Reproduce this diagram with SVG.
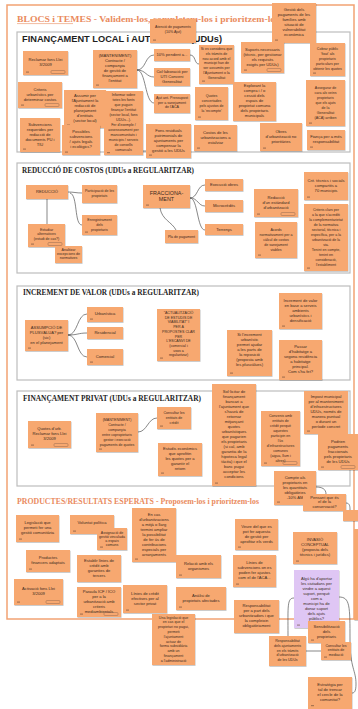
<svg xmlns="http://www.w3.org/2000/svg" width="358" height="709" viewBox="0 0 358 709">
<defs>
<filter id="sh" x="-10%" y="-10%" width="130%" height="130%"><feDropShadow dx="0.5" dy="0.8" stdDeviation="0.6" flood-color="#000" flood-opacity="0.25"/></filter>
<style>
.n{fill:#f7a870;filter:url(#sh)}
.p{fill:#dfc6f4;filter:url(#sh)}
.t{font-family:"Liberation Sans",Arial,sans-serif;font-size:4.1px;fill:#3a2a20;text-anchor:middle}
.s{font-size:3.6px}
.b{font-size:5.4px}
.box{fill:#fff;stroke:#bdbdbd;stroke-width:1.2}
.c{fill:none;stroke:#555;stroke-width:0.7}
.ic{fill:#6b4a38;opacity:0.55}
.tg{fill:none;stroke:#7d5c48;stroke-width:0.4}
.ttl{font-family:"Liberation Serif","Times New Roman",serif;font-weight:bold;fill:#ea8b5e;font-size:8.5px}
.st{font-family:"Liberation Serif","Times New Roman",serif;font-weight:bold;fill:#1e1e1e;font-size:8px}
.st1{font-family:"Liberation Sans",Arial,sans-serif;font-weight:bold;fill:#1e1e1e;font-size:9px}
</style>
</defs>
<rect width="358" height="709" fill="#fff"/>
<rect x="7" y="5" width="347" height="614" fill="none" stroke="#f2a273" stroke-width="1.5"/>
<text class="ttl" x="17" y="22" textLength="262" lengthAdjust="spacingAndGlyphs">BLOCS i TEMES - Validem-los, completem-los i prioritzem-los</text>
<line x1="17" y1="23.6" x2="73" y2="23.6" stroke="#ea8b5e" stroke-width="0.6"/>

<g id="sec1"><rect class="box" x="17" y="32" width="333" height="120"/><text class="st1" x="22" y="42" textLength="200" lengthAdjust="spacingAndGlyphs">FINANÇAMENT LOCAL i AUTONÒMIC (UDUs)</text></g>
<g id="sec2"><rect class="box" x="17" y="163" width="333" height="110"/><text class="st" x="22" y="173" textLength="172" lengthAdjust="spacingAndGlyphs">REDUCCIÓ DE COSTOS (UDUs a REGULARITZAR)</text></g>
<g id="sec3"><rect class="box" x="17" y="286" width="333" height="94"/><text class="st" x="23" y="295" textLength="176" lengthAdjust="spacingAndGlyphs">INCREMENT DE VALOR (UDUs a REGULARITZAR)</text></g>
<g id="sec4"><rect class="box" x="17" y="391" width="333" height="95"/><text class="st" x="23" y="401" textLength="178" lengthAdjust="spacingAndGlyphs">FINANÇAMENT PRIVAT (UDUs a REGULARITZAR)</text></g>
<text class="ttl" x="17" y="504" textLength="242" lengthAdjust="spacingAndGlyphs">PRODUCTES/RESULTATS ESPERATS - Proposem-los i prioritzem-los</text>

<g id="connectors">
<path class="c" d="M137,70 C146,70 145,55 154,55"/>
<path class="c" d="M137,70 C146,70 146,77 154,77"/>
<path class="c" d="M137,70 C146,70 145,103 154,103"/>
<path class="c" d="M190,55 C196,55 194,64 199,64"/>
<path class="c" d="M143,151 L146,151"/>
<path class="c" d="M68,192 C74,192 76,193 82,193"/>
<path class="c" d="M70,193 C78,195 74,225 82,225"/>
<path class="c" d="M47,199 L47,224"/>
<path class="c" d="M190,198 C198,198 197,185 205,185"/>
<path class="c" d="M190,198 C198,198 198,206 205,206"/>
<path class="c" d="M190,198 C198,198 197,230 205,230"/>
<path class="c" d="M160,208 C162,220 172,222 176,230"/>
<path class="c" d="M68,335 C78,335 77,314 87,314"/>
<path class="c" d="M68,335 C78,335 78,333 87,333"/>
<path class="c" d="M68,335 C78,335 77,357 87,357"/>
<path class="c" d="M138,432 C147,432 148,418 157,418"/>
<path class="c" d="M316,487 C322,487 326,489 326,494"/>
<path class="c" d="M346,503 C350,503 350,507 350,510"/>
<path class="c" d="M294,598 C287,598 288,606 288,636"/>
<path class="c" d="M339,597 C350,597 350,606 350,640 C350,668 356,670 356,684 C356,692 354,693 352,693"/>
<path class="c" d="M306,651 L321,651"/>
</g>

<g id="n1"><rect class="n" x="150" y="19" width="46" height="24"/><text class="t s" y="28.3"><tspan x="173">Atenció de pagaments</tspan><tspan x="173" dy="4.2">(10% Ajut)</tspan></text><rect class="ic" x="153" y="39.5" width="3" height="1.2"/></g>
<g id="n2"><rect class="n" x="272" y="3" width="44" height="40"/><text class="t" y="11"><tspan x="294">Gestió dels</tspan><tspan x="294" dy="5">pagaments de les</tspan><tspan x="294" dy="5">famílies amb</tspan><tspan x="294" dy="5">situació de</tspan><tspan x="294" dy="5">vulnerabilitat</tspan><tspan x="294" dy="5">econòmica</tspan></text><rect class="ic" x="275" y="39.5" width="3" height="1.2"/></g>
<g id="n3"><rect class="n" x="23" y="51" width="45" height="24"/><text class="t" y="61"><tspan x="45.5">Reclamar fons Llei</tspan><tspan x="45.5" dy="5">3/2009</tspan></text><rect class="ic" x="26" y="71.5" width="3" height="1.2"/><rect class="tg" x="51" y="70.5" width="14" height="3" rx="1"/></g>
<g id="n4"><rect class="n" x="93" y="50" width="44" height="38"/><text class="t" y="57"><tspan x="115">(MANTENIMENT)</tspan><tspan x="115" dy="5">Contracte /</tspan><tspan x="115" dy="5">companyia</tspan><tspan x="115" dy="5">de gestió de</tspan><tspan x="115" dy="5">finançament a</tspan><tspan x="115" dy="5">l'entitat</tspan></text><rect class="ic" x="96" y="84.5" width="3" height="1.2"/></g>
<g id="n5"><rect class="n" x="154" y="49" width="36" height="12"/><text class="t" y="55.5"><tspan x="172">10% pendent a...</tspan></text></g>
<g id="n6"><rect class="n" x="154" y="68" width="36" height="18"/><text class="t" y="72.5"><tspan x="172">Col·laboració per</tspan><tspan x="172" dy="5">UTI Conveni</tspan><tspan x="172" dy="5">Generalitat</tspan></text></g>
<g id="n7"><rect class="n" x="154" y="94" width="36" height="19"/><text class="t s" y="99"><tspan x="172">Ajut ant. Pressupost</tspan><tspan x="172" dy="4.6">per a sanejament</tspan><tspan x="172" dy="4.6">de l'ACA</tspan></text></g>
<g id="n8"><rect class="n" x="199" y="45" width="35" height="39"/><text class="t s" y="50"><tspan x="216.5">Si es considera que</tspan><tspan x="216.5" dy="4.8">els tràmits de</tspan><tspan x="216.5" dy="4.8">nou acord amb el</tspan><tspan x="216.5" dy="4.8">municipi han de</tspan><tspan x="216.5" dy="4.8">ser assumits per</tspan><tspan x="216.5" dy="4.8">l'Ajuntament o la</tspan><tspan x="216.5" dy="4.8">Generalitat</tspan></text><rect class="ic" x="202" y="80.5" width="3" height="1.2"/></g>
<g id="n9"><rect class="n" x="241" y="42" width="43" height="31"/><text class="t" y="50.5"><tspan x="262.5">Suports necessaris</tspan><tspan x="262.5" dy="5">(tècnic, per gestionar</tspan><tspan x="262.5" dy="5">els requisits</tspan><tspan x="262.5" dy="5">exigits per UDUs)</tspan></text><rect class="ic" x="244" y="69.5" width="3" height="1.2"/><rect class="tg" x="267" y="68.5" width="14" height="3" rx="1"/></g>
<g id="n10"><rect class="n" x="310" y="43" width="35" height="33"/><text class="t s" y="50"><tspan x="327.5">Cobrar públic</tspan><tspan x="327.5" dy="5">'fixat' als</tspan><tspan x="327.5" dy="5">propietaris</tspan><tspan x="327.5" dy="5">particulars per</tspan><tspan x="327.5" dy="5">obtenir les quotes</tspan></text><rect class="ic" x="313" y="72.5" width="3" height="1.2"/></g>
<g id="n11"><rect class="n" x="18" y="82" width="44" height="26"/><text class="t" y="90.5"><tspan x="40">Criteris</tspan><tspan x="40" dy="5">urbanístics per</tspan><tspan x="40" dy="5">determinar costos</tspan></text><rect class="ic" x="21" y="104.5" width="3" height="1.2"/><rect class="tg" x="45" y="103.5" width="14" height="3" rx="1"/></g>
<g id="n12"><rect class="n" x="64" y="90" width="42" height="38"/><text class="t" y="97"><tspan x="85">Assumir per</tspan><tspan x="85" dy="5">l'Ajuntament la</tspan><tspan x="85" dy="5">redacció de</tspan><tspan x="85" dy="5">planejament</tspan><tspan x="85" dy="5">d'entitats</tspan><tspan x="85" dy="5">(sector local)</tspan></text><rect class="ic" x="67" y="124.5" width="3" height="1.2"/></g>
<g id="n13"><rect class="n" x="104" y="91" width="39" height="64"/><text class="t s" y="96"><tspan x="123.5">Informar sobre</tspan><tspan x="123.5" dy="5">totes les fonts</tspan><tspan x="123.5" dy="5">que puguin</tspan><tspan x="123.5" dy="5">finançar l'entitat</tspan><tspan x="123.5" dy="5">(sector local, fons</tspan><tspan x="123.5" dy="5">UDUs...).</tspan><tspan x="123.5" dy="5">Fer d'exemple /</tspan><tspan x="123.5" dy="5">assessorament per</tspan><tspan x="123.5" dy="5">mancomunitats i</tspan><tspan x="123.5" dy="5">municipis / serveis</tspan><tspan x="123.5" dy="5">de consells</tspan><tspan x="123.5" dy="5">comarcals</tspan></text><rect class="ic" x="107" y="152" width="3" height="1.2"/></g>
<g id="n14"><rect class="n" x="20" y="118" width="40" height="34"/><text class="t" y="125.5"><tspan x="40">Subvencions</tspan><tspan x="40" dy="5">requerides per</tspan><tspan x="40" dy="5">redacció de</tspan><tspan x="40" dy="5">documents PU i</tspan><tspan x="40" dy="5">TIU</tspan></text><rect class="ic" x="23" y="148.5" width="3" height="1.2"/></g>
<g id="n15"><rect class="n" x="62" y="125" width="38" height="30"/><text class="t" y="133"><tspan x="81">Possibles</tspan><tspan x="81" dy="5">subvencions</tspan><tspan x="81" dy="5">/ ajuts legals</tspan><tspan x="81" dy="5">i ecològics?</tspan></text><rect class="ic" x="65" y="151.5" width="3" height="1.2"/></g>
<g id="n17"><rect class="n" x="146" y="124" width="45" height="34"/><text class="t" y="131.5"><tspan x="168.5">Fons residuals</tspan><tspan x="168.5" dy="5">patrimonials de</tspan><tspan x="168.5" dy="5">ajuntaments per</tspan><tspan x="168.5" dy="5">compensar la</tspan><tspan x="168.5" dy="5">gestió a les UDUs</tspan></text><rect class="ic" x="149" y="154.5" width="3" height="1.2"/></g>
<g id="n18"><rect class="n" x="195" y="87" width="33" height="33"/><text class="t s" y="96.5"><tspan x="211.5">Quotes</tspan><tspan x="211.5" dy="5">concertades</tspan><tspan x="211.5" dy="5">pels ajustos de</tspan><tspan x="211.5" dy="5">la 'recompte'</tspan></text><rect class="ic" x="198" y="116.5" width="3" height="1.2"/></g>
<g id="n19"><rect class="n" x="233" y="82" width="43" height="39"/><text class="t" y="87"><tspan x="254.5">Explorant la</tspan><tspan x="254.5" dy="5">compra i / o</tspan><tspan x="254.5" dy="5">cessió dels</tspan><tspan x="254.5" dy="5">espais de</tspan><tspan x="254.5" dy="5">propietat comuna</tspan><tspan x="254.5" dy="5">dels propietaris</tspan><tspan x="254.5" dy="5">municipals</tspan></text></g>
<g id="n20"><rect class="n" x="306" y="80" width="39" height="46"/><text class="t s" y="88.5"><tspan x="325.5">Assegurar de</tspan><tspan x="325.5" dy="5">cara als veïns</tspan><tspan x="325.5" dy="5">propietaris</tspan><tspan x="325.5" dy="5">que els ajuts</tspan><tspan x="325.5" dy="5">de la</tspan><tspan x="325.5" dy="5">Generalitat</tspan><tspan x="325.5" dy="5">(ACA) arriben</tspan></text><rect class="ic" x="309" y="122.5" width="3" height="1.2"/></g>
<g id="n21"><rect class="n" x="194" y="125" width="43" height="26"/><text class="t" y="133.5"><tspan x="215.5">Costos de les</tspan><tspan x="215.5" dy="5">urbanitzacions a</tspan><tspan x="215.5" dy="5">estalviar</tspan></text><rect class="ic" x="197" y="147.5" width="3" height="1.2"/></g>
<g id="n22"><rect class="n" x="260" y="123" width="42" height="28"/><text class="t" y="132.5"><tspan x="281">Obres</tspan><tspan x="281" dy="5">d'urbanització no</tspan><tspan x="281" dy="5">prioritàries</tspan></text><rect class="ic" x="263" y="147.5" width="3" height="1.2"/></g>
<g id="n23"><rect class="n" x="307" y="130" width="38" height="20"/><text class="t" y="138"><tspan x="326">Fiança per a més</tspan><tspan x="326" dy="5">responsabilitat</tspan></text><rect class="ic" x="310" y="146.5" width="3" height="1.2"/></g>

<g id="n24"><rect class="n" x="26" y="185" width="42" height="14"/><text class="t" y="193"><tspan x="47">REDUCCIÓ</tspan></text></g>
<g id="n25"><rect class="n" x="82" y="185" width="35" height="18"/><text class="t s" y="192"><tspan x="99.5">Participació de les</tspan><tspan x="99.5" dy="5">propietats</tspan></text></g>
<g id="n26"><rect class="n" x="82" y="215" width="35" height="20"/><text class="t s" y="220.5"><tspan x="99.5">Enregistrament</tspan><tspan x="99.5" dy="5">dels</tspan><tspan x="99.5" dy="5">propietaris</tspan></text><rect class="ic" x="85" y="231.5" width="3" height="1.2"/></g>
<g id="n27"><rect class="n" x="28" y="224" width="37" height="23"/><text class="t s" y="230.5"><tspan x="46.5">Estudiar</tspan><tspan x="46.5" dy="4.6">alternatives</tspan><tspan x="46.5" dy="4.6">(estudi de cas?)</tspan></text><rect class="ic" x="31" y="243.5" width="3" height="1.2"/><rect class="tg" x="48" y="242.5" width="14" height="3" rx="1"/></g>
<g id="n28"><rect class="n" x="55" y="246" width="27" height="17"/><text class="t s" y="250.5"><tspan x="68.5">Analitzar</tspan><tspan x="68.5" dy="4.3">excepcions de</tspan><tspan x="68.5" dy="4.3">normatives</tspan></text></g>
<g id="n29"><rect class="n" x="143" y="185" width="47" height="23"/><text class="t b" y="194.5"><tspan x="166.5">FRACCIONA-</tspan><tspan x="166.5" dy="6">MENT</tspan></text><rect class="ic" x="146" y="204.5" width="3" height="1.2"/></g>
<g id="n30"><rect class="n" x="205" y="179" width="38" height="12"/><text class="t" y="186"><tspan x="224">Execució obres</tspan></text></g>
<g id="n31"><rect class="n" x="205" y="200" width="38" height="12"/><text class="t" y="207"><tspan x="224">Microcrèdits</tspan></text></g>
<g id="n32"><rect class="n" x="205" y="224" width="38" height="11"/><text class="t" y="230.5"><tspan x="224">Terrenys</tspan></text></g>
<g id="n33"><rect class="n" x="165" y="230" width="33" height="13"/><text class="t s" y="237.5"><tspan x="181.5">Pla de pagament</tspan></text></g>
<g id="n34"><rect class="n" x="254" y="189" width="44" height="28"/><text class="t" y="198.5"><tspan x="276">Redacció</tspan><tspan x="276" dy="5">d'un estàndard</tspan><tspan x="276" dy="5">d'urbanització</tspan></text><rect class="ic" x="257" y="213.5" width="3" height="1.2"/><rect class="tg" x="281" y="212.5" width="14" height="3" rx="1"/></g>
<g id="n35"><rect class="n" x="255" y="222" width="42" height="36"/><text class="t s" y="230.5"><tspan x="276">Acords</tspan><tspan x="276" dy="5">normativament per a</tspan><tspan x="276" dy="5">càlcul de costos</tspan><tspan x="276" dy="5">de sanejament</tspan><tspan x="276" dy="5">viables</tspan></text><rect class="ic" x="258" y="254.5" width="3" height="1.2"/></g>
<g id="n36"><rect class="n" x="304" y="172" width="44" height="28"/><text class="t" y="181.5"><tspan x="326">Crit. tècnics i socials</tspan><tspan x="326" dy="5">compartits a</tspan><tspan x="326" dy="5">70 municipis</tspan></text><rect class="ic" x="307" y="196.5" width="3" height="1.2"/></g>
<g id="n37"><rect class="n" x="304" y="204" width="44" height="67"/><text class="t s" y="210.5"><tspan x="326">Criteris clars per</tspan><tspan x="326" dy="5">a la que s'acrediti</tspan><tspan x="326" dy="5">la complementarietat</tspan><tspan x="326" dy="5">de la normativa</tspan><tspan x="326" dy="5">sectorial, tècnica i</tspan><tspan x="326" dy="5">específica, per a la</tspan><tspan x="326" dy="5">urbanització de la</tspan><tspan x="326" dy="5">via.</tspan><tspan x="326" dy="5">Tenint en compte,</tspan><tspan x="326" dy="5">tenint en</tspan><tspan x="326" dy="5">consideració,</tspan><tspan x="326" dy="5">l'establiment</tspan></text><rect class="ic" x="307" y="267.5" width="3" height="1.2"/></g>

<g id="n38"><rect class="n" x="25" y="320" width="43" height="31"/><text class="t" y="328.5"><tspan x="46.5">ASSUMPCIÓ DE</tspan><tspan x="46.5" dy="5">PLUSVÀLUA? per</tspan><tspan x="46.5" dy="5">(sic)</tspan><tspan x="46.5" dy="5">en el planejament</tspan></text><rect class="ic" x="28" y="347.5" width="3" height="1.2"/></g>
<g id="n39"><rect class="n" x="87" y="307" width="36" height="15"/><text class="t" y="315"><tspan x="105">Urbanística</tspan></text><rect class="ic" x="90" y="318.5" width="3" height="1.2"/></g>
<g id="n40"><rect class="n" x="87" y="327" width="36" height="12"/><text class="t" y="334"><tspan x="105">Residencial</tspan></text></g>
<g id="n41"><rect class="n" x="87" y="349" width="36" height="16"/><text class="t" y="357.5"><tspan x="105">Comercial</tspan></text><rect class="ic" x="90" y="361.5" width="3" height="1.2"/></g>
<g id="n42"><rect class="n" x="157" y="309" width="43" height="52"/><text class="t s" y="314"><tspan x="178.5">"ACTUALITZACIÓ</tspan><tspan x="178.5" dy="4.7">DE ESTUDIS DE</tspan><tspan x="178.5" dy="4.7">VIABILITAT" I</tspan><tspan x="178.5" dy="4.7">PER A</tspan><tspan x="178.5" dy="4.7">PROPOSTES CLAR</tspan><tspan x="178.5" dy="4.7">PER</tspan><tspan x="178.5" dy="4.7">L'ESCANVI DE</tspan><tspan x="178.5" dy="4.7">(comercial i</tspan><tspan x="178.5" dy="4.7">usos a</tspan><tspan x="178.5" dy="4.7">regularitzar)</tspan></text><rect class="ic" x="160" y="357.5" width="3" height="1.2"/></g>
<g id="n43"><rect class="n" x="227" y="330" width="45" height="46"/><text class="t" y="336"><tspan x="249.5">Si l'increment</tspan><tspan x="249.5" dy="5">urbanístic</tspan><tspan x="249.5" dy="5">permet ajudar</tspan><tspan x="249.5" dy="5">a les parts de</tspan><tspan x="249.5" dy="5">la reposició</tspan><tspan x="249.5" dy="5">(proposta amb</tspan><tspan x="249.5" dy="5">les plusvàlues)</tspan></text><rect class="ic" x="230" y="372.5" width="3" height="1.2"/></g>
<g id="n44"><rect class="n" x="279" y="293" width="43" height="36"/><text class="t" y="301.5"><tspan x="300.5">Increment de valor</tspan><tspan x="300.5" dy="5">en base a serveis</tspan><tspan x="300.5" dy="5">ambients</tspan><tspan x="300.5" dy="5">urbanístics i</tspan><tspan x="300.5" dy="5">densificació</tspan></text><rect class="ic" x="282" y="325.5" width="3" height="1.2"/></g>
<g id="n45"><rect class="n" x="279" y="340" width="43" height="40"/><text class="t" y="348"><tspan x="300.5">Passar</tspan><tspan x="300.5" dy="5">d'habitatge a</tspan><tspan x="300.5" dy="5">segona residència</tspan><tspan x="300.5" dy="5">a habitatge</tspan><tspan x="300.5" dy="5">principal.</tspan><tspan x="300.5" dy="5">Com s'ha fet?</tspan></text><rect class="ic" x="282" y="376.5" width="3" height="1.2"/></g>

<g id="n46"><rect class="n" x="28" y="421" width="43" height="27"/><text class="t" y="430"><tspan x="49.5">Quotes d'urb.</tspan><tspan x="49.5" dy="5">Reclamar fons Llei</tspan><tspan x="49.5" dy="5">3/2009</tspan></text><rect class="ic" x="31" y="444.5" width="3" height="1.2"/><rect class="tg" x="54" y="443.5" width="14" height="3" rx="1"/></g>
<g id="n47"><rect class="n" x="96" y="413" width="42" height="39"/><text class="t s" y="420.5"><tspan x="117">(MANTENIMENT)</tspan><tspan x="117" dy="5">Contracte /</tspan><tspan x="117" dy="5">companyia</tspan><tspan x="117" dy="5">entre copropietaris</tspan><tspan x="117" dy="5">gestor i execució</tspan><tspan x="117" dy="5">pagaments de quotes</tspan></text><rect class="ic" x="99" y="448.5" width="3" height="1.2"/></g>
<g id="n48"><rect class="n" x="157" y="407" width="34" height="22"/><text class="t s" y="413.5"><tspan x="174">Consultar les</tspan><tspan x="174" dy="5">entitats de</tspan><tspan x="174" dy="5">crèdit</tspan></text><rect class="ic" x="160" y="425.5" width="3" height="1.2"/></g>
<g id="n49"><rect class="n" x="158" y="443" width="44" height="33"/><text class="t" y="450"><tspan x="180">Estudis econòmics</tspan><tspan x="180" dy="5">que aprofitin</tspan><tspan x="180" dy="5">les quotes per a</tspan><tspan x="180" dy="5">garantir el</tspan><tspan x="180" dy="5">retorn</tspan></text><rect class="ic" x="161" y="472.5" width="3" height="1.2"/></g>
<g id="n50"><rect class="n" x="212" y="384" width="44" height="102"/><text class="t" y="393"><tspan x="234">Sol·licitar de</tspan><tspan x="234" dy="5">finançament</tspan><tspan x="234" dy="5">bancari a</tspan><tspan x="234" dy="5">l'ajuntament que</tspan><tspan x="234" dy="5">s'haurà de</tspan><tspan x="234" dy="5">retornar</tspan><tspan x="234" dy="5">mitjançant</tspan><tspan x="234" dy="5">quotes</tspan><tspan x="234" dy="5">urbanístiques</tspan><tspan x="234" dy="5">que pagarien</tspan><tspan x="234" dy="5">els propietaris</tspan><tspan x="234" dy="5">(si cal, amb</tspan><tspan x="234" dy="5">garantia de la</tspan><tspan x="234" dy="5">hipoteca legal</tspan><tspan x="234" dy="5">tàcita) i que el</tspan><tspan x="234" dy="5">banc pugui</tspan><tspan x="234" dy="5">acceptar les</tspan><tspan x="234" dy="5">condicions</tspan></text><rect class="ic" x="215" y="482.5" width="3" height="1.2"/></g>
<g id="n51"><rect class="n" x="261" y="411" width="39" height="55"/><text class="t s" y="416.5"><tspan x="280.5">Convenis amb</tspan><tspan x="280.5" dy="5">entitats de</tspan><tspan x="280.5" dy="5">crèdit perquè</tspan><tspan x="280.5" dy="5">aquestes</tspan><tspan x="280.5" dy="5">participin en</tspan><tspan x="280.5" dy="5">l'ús</tspan><tspan x="280.5" dy="5">d'infraestructures</tspan><tspan x="280.5" dy="5">comunes</tspan><tspan x="280.5" dy="5">(aigua, llum i</tspan><tspan x="280.5" dy="5">altres)</tspan></text><rect class="ic" x="264" y="462.5" width="3" height="1.2"/><rect class="tg" x="283" y="461.5" width="14" height="3" rx="1"/></g>
<g id="n52"><rect class="n" x="304" y="391" width="44" height="43"/><text class="t" y="398"><tspan x="326">Impost municipal</tspan><tspan x="326" dy="5">per al manteniment</tspan><tspan x="326" dy="5">d'infraestructures</tspan><tspan x="326" dy="5">UDUs, només de</tspan><tspan x="326" dy="5">manera puntual</tspan><tspan x="326" dy="5">o durant un</tspan><tspan x="326" dy="5">període concret</tspan></text><rect class="ic" x="307" y="430.5" width="3" height="1.2"/></g>
<g id="n53"><rect class="n" x="318" y="434" width="40" height="36"/><text class="t" y="442.5"><tspan x="338">Podrien</tspan><tspan x="338" dy="5">pagaments</tspan><tspan x="338" dy="5">fraccionats</tspan><tspan x="338" dy="5">pels propietaris</tspan><tspan x="338" dy="5">de les UDUs</tspan></text><rect class="ic" x="321" y="466.5" width="3" height="1.2"/><rect class="tg" x="341" y="465.5" width="14" height="3" rx="1"/></g>
<g id="n54"><rect class="n" x="274" y="471" width="42" height="34"/><text class="t" y="478.5"><tspan x="295">Compte als</tspan><tspan x="295" dy="5">propietaris en</tspan><tspan x="295" dy="5">les quantitats</tspan><tspan x="295" dy="5">obligatòries</tspan><tspan x="295" dy="5">-10% AM</tspan></text><rect class="ic" x="277" y="501.5" width="3" height="1.2"/></g>
<g id="n55"><rect class="n" x="303" y="494" width="43" height="17"/><text class="t" y="498.5"><tspan x="324.5">Pensant que és</tspan><tspan x="324.5" dy="4.6">el de la</tspan><tspan x="324.5" dy="4.6">conservació?</tspan></text></g>
<g id="n56"><rect class="n" x="343" y="510" width="15" height="11"/></g>

<g id="n57"><rect class="n" x="16" y="515" width="43" height="27"/><text class="t" y="524"><tspan x="37.5">Legislació que</tspan><tspan x="37.5" dy="5">permeti fer una</tspan><tspan x="37.5" dy="5">gestió comunitària</tspan></text><rect class="ic" x="19" y="538.5" width="3" height="1.2"/></g>
<g id="n58"><rect class="n" x="70" y="515" width="44" height="19"/><text class="t" y="524"><tspan x="92">Voluntat política</tspan></text><rect class="ic" x="73" y="530.5" width="3" height="1.2"/></g>
<g id="n59"><rect class="n" x="97" y="528" width="30" height="22"/><text class="t s" y="533.5"><tspan x="112">Assignació de</tspan><tspan x="112" dy="4.3">gestió vinculada</tspan><tspan x="112" dy="4.3">a espais</tspan><tspan x="112" dy="4.3">comuns</tspan></text><rect class="ic" x="100" y="546.5" width="3" height="1.2"/></g>
<g id="n60"><rect class="n" x="132" y="508" width="44" height="54"/><text class="t" y="515.5"><tspan x="154">En cas</tspan><tspan x="154" dy="5">d'urbanitzacions</tspan><tspan x="154" dy="5">a mitjà o llarg</tspan><tspan x="154" dy="5">termini ampliar</tspan><tspan x="154" dy="5">la possibilitat</tspan><tspan x="154" dy="5">de fer ús de</tspan><tspan x="154" dy="5">contribucions</tspan><tspan x="154" dy="5">especials per</tspan><tspan x="154" dy="5">arranjaments</tspan></text><rect class="ic" x="135" y="558.5" width="3" height="1.2"/></g>
<g id="n61"><rect class="n" x="26" y="550" width="44" height="22"/><text class="t" y="559"><tspan x="48">Productes</tspan><tspan x="48" dy="5">financers adaptats</tspan></text><rect class="ic" x="29" y="568.5" width="3" height="1.2"/></g>
<g id="n62"><rect class="n" x="77" y="555" width="44" height="27"/><text class="t" y="562"><tspan x="99">Establir línies de</tspan><tspan x="99" dy="5">crèdit amb</tspan><tspan x="99" dy="5">garanties de</tspan><tspan x="99" dy="5">tercers</tspan></text></g>
<g id="n63"><rect class="n" x="14" y="579" width="49" height="26"/><text class="t" y="590"><tspan x="38.5">Activació fons Llei</tspan><tspan x="38.5" dy="5">3/2009</tspan></text><rect class="ic" x="17" y="601.5" width="3" height="1.2"/><rect class="tg" x="46" y="600.5" width="14" height="3" rx="1"/></g>
<g id="n64"><rect class="n" x="77" y="587" width="44" height="30"/><text class="t" y="593"><tspan x="99">Paraula ICF / ICO</tspan><tspan x="99" dy="5">per a la</tspan><tspan x="99" dy="5">urbanització amb</tspan><tspan x="99" dy="5">criteris</tspan><tspan x="99" dy="5">mediambientals</tspan></text><rect class="ic" x="80" y="613.5" width="3" height="1.2"/><rect class="tg" x="104" y="612.5" width="14" height="3" rx="1"/></g>
<g id="n65"><rect class="n" x="123" y="585" width="44" height="28"/><text class="t" y="594.5"><tspan x="145">Línies de crèdit</tspan><tspan x="145" dy="5">efectives per al</tspan><tspan x="145" dy="5">sector privat</tspan></text><rect class="ic" x="126" y="609.5" width="3" height="1.2"/></g>
<g id="n66"><rect class="n" x="152" y="614" width="43" height="51"/><text class="t s" y="618.5"><tspan x="173.5">Una legislació que</tspan><tspan x="173.5" dy="4.8">en cas que el</tspan><tspan x="173.5" dy="4.8">propietari no pagui,</tspan><tspan x="173.5" dy="4.8">permeti</tspan><tspan x="173.5" dy="4.8">l'ajuntament</tspan><tspan x="173.5" dy="4.8">actuar de</tspan><tspan x="173.5" dy="4.8">forma subsidiària</tspan><tspan x="173.5" dy="4.8">amb un</tspan><tspan x="173.5" dy="4.8">finançament</tspan><tspan x="173.5" dy="4.8">a l'administració</tspan></text></g>
<g id="n67"><rect class="n" x="235" y="519" width="43" height="31"/><text class="t" y="527.5"><tspan x="256.5">Veure del que es</tspan><tspan x="256.5" dy="5">pot fer aquesta</tspan><tspan x="256.5" dy="5">de gestió per</tspan><tspan x="256.5" dy="5">aprofitar els verds</tspan></text><rect class="ic" x="238" y="546.5" width="3" height="1.2"/></g>
<g id="n68"><rect class="n" x="176" y="555" width="45" height="23"/><text class="t" y="564.5"><tspan x="198.5">Relació amb els</tspan><tspan x="198.5" dy="5">organismes</tspan></text><rect class="ic" x="179" y="574.5" width="3" height="1.2"/></g>
<g id="n69"><rect class="n" x="233" y="555" width="43" height="32"/><text class="t" y="564"><tspan x="254.5">Línies de</tspan><tspan x="254.5" dy="5">subvencions on es</tspan><tspan x="254.5" dy="5">poden fer ajustos</tspan><tspan x="254.5" dy="5">com el de l'ACA...</tspan></text><rect class="ic" x="236" y="583.5" width="3" height="1.2"/></g>
<g id="n70"><rect class="n" x="293" y="532" width="44" height="32"/><text class="t" y="541"><tspan x="315">INVASIÓ</tspan><tspan x="315" dy="5">CONCEPTUAL</tspan><tspan x="315" dy="5">(proposta dels</tspan><tspan x="315" dy="5">tècnics i jurídics)</tspan></text><rect class="ic" x="296" y="560.5" width="3" height="1.2"/></g>
<g id="n78"><rect class="n" x="354" y="529" width="6" height="91"/></g>
<g id="n71"><rect class="p" x="294" y="570" width="45" height="58"/><text class="t" y="579.5"><tspan x="316.5">Algú ha d'aportar</tspan><tspan x="316.5" dy="5">les ciutadans per</tspan><tspan x="316.5" dy="5">vindre a aquest</tspan><tspan x="316.5" dy="5">suport, perquè</tspan><tspan x="316.5" dy="5">com a</tspan><tspan x="316.5" dy="5">municipi ha de</tspan><tspan x="316.5" dy="5">donar suport</tspan><tspan x="316.5" dy="5">dels ajuts</tspan><tspan x="316.5" dy="5">públics?</tspan></text><rect class="ic" x="297" y="624.5" width="3" height="1.2"/></g>
<g id="n72"><rect class="n" x="176" y="587" width="50" height="23"/><text class="t" y="596.5"><tspan x="201">Anàlisi de</tspan><tspan x="201" dy="5">propietats afectades</tspan></text><rect class="ic" x="179" y="606.5" width="3" height="1.2"/></g>
<g id="n73"><rect class="n" x="234" y="600" width="45" height="33"/><text class="t" y="607"><tspan x="256.5">Responsabilitat</tspan><tspan x="256.5" dy="5">per a part dels</tspan><tspan x="256.5" dy="5">urbanitzadors i que</tspan><tspan x="256.5" dy="5">la compleixin</tspan><tspan x="256.5" dy="5">obligatòriament</tspan></text></g>
<g id="n74"><rect class="n" x="269" y="636" width="37" height="30"/><text class="t s" y="642"><tspan x="287.5">Responsabilitat</tspan><tspan x="287.5" dy="4.8">dels ajuntaments</tspan><tspan x="287.5" dy="4.8">en els tràmits</tspan><tspan x="287.5" dy="4.8">d'urbanització</tspan><tspan x="287.5" dy="4.8">de les UDUs</tspan></text></g>
<g id="n75"><rect class="n" x="308" y="621" width="37" height="22"/><text class="t" y="627.5"><tspan x="326.5">Sensibilització</tspan><tspan x="326.5" dy="5">dels</tspan><tspan x="326.5" dy="5">propietaris</tspan></text><rect class="ic" x="311" y="639.5" width="3" height="1.2"/></g>
<g id="n76"><rect class="n" x="321" y="642" width="30" height="18"/><text class="t s" y="647"><tspan x="336">Consultar les</tspan><tspan x="336" dy="4.4">entitats de</tspan><tspan x="336" dy="4.4">mediació</tspan></text><rect class="ic" x="324" y="656.5" width="3" height="1.2"/></g>
<g id="n77"><rect class="n" x="308" y="677" width="44" height="32"/><text class="t" y="686"><tspan x="330">Estratègia per</tspan><tspan x="330" dy="5">tal de trencar</tspan><tspan x="330" dy="5">el cercle de la</tspan><tspan x="330" dy="5">comunitat?</tspan></text><rect class="ic" x="311" y="705" width="3" height="1.2"/></g>
</svg>
